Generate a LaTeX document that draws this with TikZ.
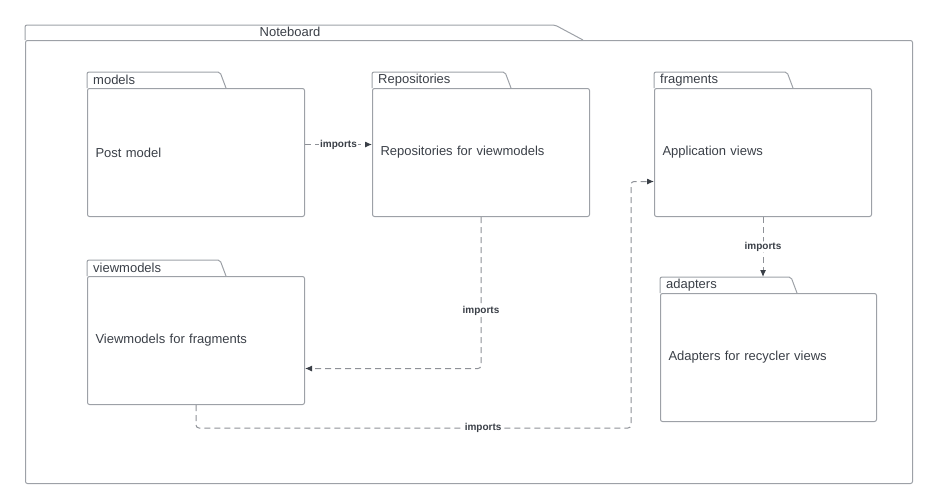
\documentclass[tikz,border=0pt]{standalone}
\usepackage{fontspec}
\setmainfont{Liberation Sans}
\usetikzlibrary{arrows.meta,calc}

\definecolor{pkgline}{HTML}{9DA1A7}
\definecolor{inkc}{HTML}{3A3F47}
\definecolor{depline}{HTML}{8E9197}

\tikzset{
  pkgbody/.style={draw=pkgline, line width=1pt, rounded corners=2pt, anchor=north west,
    minimum width=217pt, minimum height=128pt, text width=201pt, align=left,
    inner xsep=8pt, font=\fontsize{13}{15}\selectfont, text=inkc},
  tabtext/.style={anchor=west, inner sep=0pt, font=\fontsize{13}{15}\selectfont, text=inkc},
  dep/.style={draw=depline, line width=1pt, dash pattern=on 6pt off 4pt, rounded corners=3pt,
    -{Latex[length=7pt,width=6pt,color=inkc]}},
  deplabel/.style={fill=white, inner sep=1pt, font=\bfseries\fontsize{10}{12}\selectfont, text=inkc}
}

% folder tab on top of a package body
\newcommand{\pkgtab}[3]{%
  \draw[pkgline, line width=1pt, rounded corners=2pt] (#1.north west) -- ++(0,-16) -- ++(#2,0) -- ++(6,16);
  \coordinate (#1-tab) at ([yshift=16pt]#1.north west);
  \node[tabtext] at ([xshift=6pt,yshift=8pt]#1.north west) {#3};
}

\begin{document}
\begin{tikzpicture}[x=1pt,y=-1pt]
\useasboundingbox (0,0) rectangle (928,496);

% outer package
\node[pkgbody, minimum width=887pt, minimum height=443pt, text width=871pt] (noteboard) at (25,40) {};
\draw[pkgline, line width=1pt, rounded corners=2pt] (noteboard.north west) -- ++(0,-15) -- ++(530,0) -- ++(28,15);
\node[tabtext, anchor=center] (noteboard-name) at (290,32) {Noteboard};

% packages
\node[pkgbody] (models) at (87,88) {Post model};
\pkgtab{models}{133}{models}
\node[pkgbody] (repos) at (372,88) {Repositories for viewmodels};
\pkgtab{repos}{133}{Repositories}
\node[pkgbody] (fragments) at (654,88) {Application views};
\pkgtab{fragments}{133}{fragments}
\node[pkgbody] (viewmodels) at (87,276) {Viewmodels for fragments};
\pkgtab{viewmodels}{133}{viewmodels}
\node[pkgbody, minimum width=216pt, text width=200pt] (adapters) at (660,293) {Adapters for recycler views};
\pkgtab{adapters}{131}{adapters}

% dependencies
\coordinate (turn) at (631,428);
\draw[dep] ([yshift=8pt]models.east) -- ([yshift=8pt]repos.west) node[midway, deplabel] {imports};
\draw[dep] (repos.south) |- ([yshift=-28pt]viewmodels.east) node[pos=0.31, deplabel] {imports};
\draw[dep] (viewmodels.south) |- (turn) node[pos=0.83, deplabel] {imports} |- ([yshift=-29pt]fragments.west);
\draw[dep] (fragments.south) -- (fragments.south |- adapters-tab) node[midway, deplabel] {imports};
\end{tikzpicture}
\end{document}
